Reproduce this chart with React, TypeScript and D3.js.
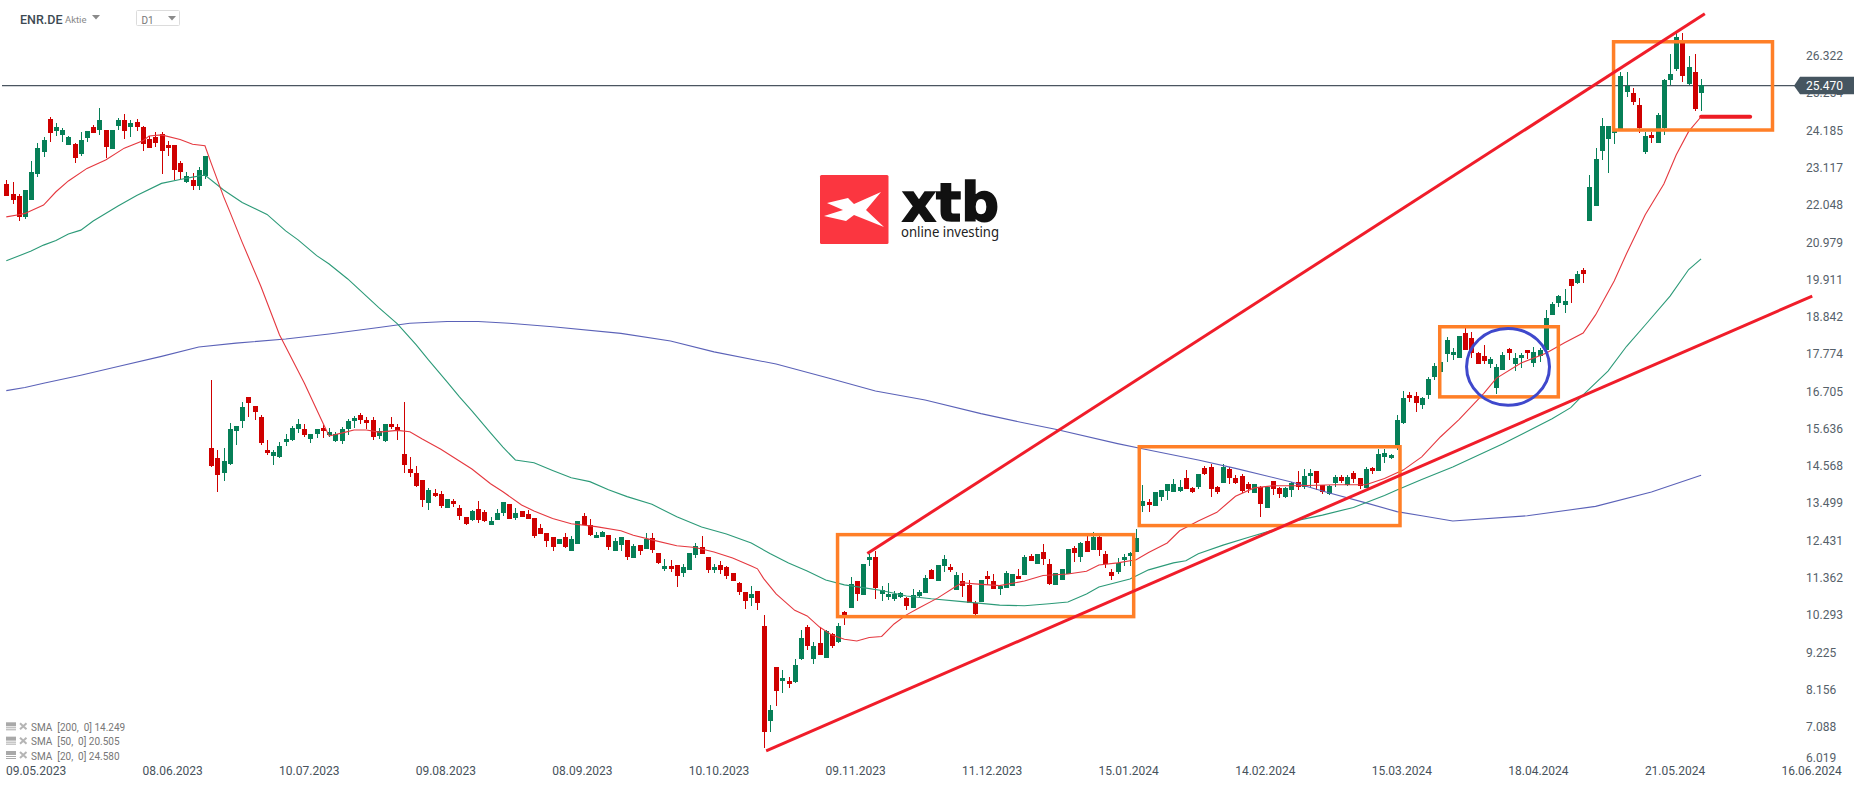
import { useEffect, useRef } from "react";
import * as d3 from "d3";

const opens = [
  22.65,22.37,22.31,21.71,22.19,22.94,23.57,24.52,24.17,24.06,
  23.77,23.80,23.51,23.97,24.29,24.20,24.20,23.65,24.31,24.49,
  24.29,24.43,24.29,23.94,24.00,24.09,23.77,23.77,23.25,22.71,
  22.77,22.59,22.88,15.08,14.80,14.37,14.62,15.57,15.86,16.55,
  16.29,15.97,15.03,14.85,14.83,15.26,15.31,15.63,15.63,15.34,
  15.49,15.66,15.46,15.28,15.28,15.63,15.86,16.03,15.89,15.89,
  15.43,15.28,15.77,15.69,14.91,14.48,14.37,14.17,13.51,13.79,
  13.76,13.36,13.56,13.36,13.10,13.02,13.33,13.25,12.88,13.02,
  13.22,13.48,13.08,13.28,13.19,13.08,12.79,12.65,12.53,12.33,
  12.53,12.13,12.33,13.13,12.88,12.50,12.53,12.59,12.13,12.30,
  12.45,11.93,12.30,12.19,12.50,12.07,11.61,11.70,11.73,11.50,
  11.59,12.02,12.24,11.96,11.59,11.73,11.67,11.50,11.21,10.95,
  10.78,10.98,9.98,7.26,8.80,8.40,8.40,8.37,9.03,9.95,
  9.03,9.49,9.06,9.75,9.52,10.38,10.50,11.27,10.87,11.87,
  11.96,10.90,10.81,10.75,10.81,10.78,10.50,10.84,10.93,11.59,
  11.27,11.70,11.67,11.01,11.27,11.16,10.63,10.67,11.41,11.27,
  11.04,11.07,11.13,11.41,11.44,11.99,11.76,12.10,11.76,11.16,
  11.30,11.47,12.22,11.96,12.42,12.16,12.53,12.04,11.53,11.53,
  11.87,11.99,12.11,13.42,13.54,13.42,13.68,13.85,13.82,13.85,
  14.22,13.94,13.96,14.51,14.54,13.96,14.08,14.48,14.22,14.28,
  14.05,13.79,13.96,13.36,14.14,13.94,13.68,13.88,14.11,13.96,
  14.28,14.42,14.02,13.76,14.08,14.25,14.02,14.37,14.22,13.94,
  14.51,14.42,14.83,14.79,15.07,15.80,16.60,16.57,16.32,16.60,
  17.13,17.26,17.78,17.75,17.67,18.37,18.23,17.80,17.72,17.49,
  16.81,17.32,17.92,17.49,17.66,17.89,17.53,17.73,17.89,18.90,
  19.25,19.19,19.92,19.81,20.19,21.60,22.03,23.60,23.94,24.11,
  24.23,25.30,25.26,24.92,23.57,24.06,23.83,24.26,25.63,25.95,
  26.75,25.52,25.86,25.26,
];
const closes = [
  22.31,22.19,21.71,22.48,22.99,23.68,23.91,24.11,24.29,24.20,
  24.00,23.40,23.91,24.17,24.11,24.49,23.71,24.20,24.49,24.17,
  24.40,24.29,23.80,23.68,23.83,23.60,23.68,23.05,22.99,22.88,
  22.59,23.05,23.45,14.57,14.31,14.71,15.63,15.71,16.26,16.37,
  16.12,15.23,14.94,14.97,15.14,15.34,15.66,15.77,15.46,15.49,
  15.63,15.57,15.54,15.49,15.63,15.86,15.94,15.89,15.80,15.40,
  15.57,15.77,15.69,15.57,14.60,14.37,13.99,13.59,13.88,13.71,
  13.42,13.62,13.48,13.13,12.90,13.28,13.02,12.99,12.99,13.22,
  13.54,13.05,13.22,13.10,13.05,12.56,12.62,12.42,12.24,12.47,
  12.24,12.47,12.99,12.88,12.59,12.59,12.68,12.24,12.42,12.53,
  11.96,12.27,12.13,12.47,12.16,11.79,11.70,11.61,11.41,11.67,
  12.07,12.27,12.04,11.59,11.67,11.59,11.41,11.27,10.95,10.70,
  10.90,10.64,6.94,7.57,8.12,8.49,8.32,8.86,9.64,9.41,
  9.41,9.15,9.84,9.41,9.98,10.30,11.18,10.90,11.76,11.96,
  11.07,11.01,10.90,10.90,10.93,10.55,10.87,10.96,11.36,11.33,
  11.73,11.90,11.59,11.44,11.13,10.64,10.32,11.30,11.33,11.04,
  11.13,11.50,11.47,11.33,11.96,11.84,12.04,11.90,11.18,11.50,
  11.61,12.19,12.07,12.36,12.10,12.53,12.16,11.76,11.41,11.79,
  11.96,12.07,12.50,13.56,13.45,13.82,13.88,14.05,14.05,13.96,
  13.91,13.82,14.34,14.34,13.91,13.82,14.54,14.22,14.08,13.85,
  13.91,14.05,13.48,13.96,13.91,13.76,13.94,14.08,13.96,14.28,
  14.37,14.08,13.82,13.99,14.25,14.14,14.25,14.19,13.99,14.48,
  14.42,14.91,14.93,14.88,15.89,16.52,16.52,16.37,16.52,17.06,
  17.43,17.55,18.18,17.85,18.29,17.89,17.80,17.49,17.58,17.63,
  17.42,17.75,17.82,17.66,17.75,17.80,17.84,17.89,18.80,19.20,
  19.44,19.29,19.74,20.07,20.07,22.57,23.37,24.32,24.32,24.20,
  25.75,25.47,25.01,24.26,24.03,23.97,24.63,25.63,25.81,26.87,
  25.75,26.01,24.80,25.50,
];
const highs = [
  22.77,22.71,22.37,22.48,23.31,23.83,24.00,24.57,24.40,24.26,
  24.03,23.83,24.14,24.17,24.34,24.83,24.20,24.20,24.54,24.66,
  24.49,24.52,24.31,24.03,24.14,24.14,23.88,23.77,23.31,22.99,
  22.97,23.14,23.45,17.03,15.03,15.08,15.80,15.71,16.40,16.55,
  16.29,16.03,15.31,15.03,15.26,15.49,15.71,15.91,15.77,15.49,
  15.63,15.74,15.66,15.54,15.69,15.91,16.00,16.09,15.97,15.97,
  15.66,15.77,15.97,15.77,16.40,14.83,14.57,14.17,13.94,13.91,
  13.85,13.62,13.62,13.45,13.10,13.30,13.56,13.30,13.10,13.33,
  13.54,13.48,13.36,13.28,13.30,13.08,12.90,12.65,12.53,12.47,
  12.65,12.56,12.99,13.22,13.05,12.68,12.70,12.59,12.50,12.53,
  12.45,12.33,12.30,12.65,12.65,12.07,11.90,11.87,11.73,11.76,
  12.07,12.36,12.56,11.96,11.76,11.84,11.70,11.50,11.24,10.95,
  11.13,10.98,10.30,7.71,8.80,8.72,8.52,9.03,9.87,10.01,
  9.52,9.95,9.87,9.78,10.07,10.41,11.39,11.27,11.76,12.04,
  12.13,11.13,11.21,10.98,10.96,10.81,11.04,11.01,11.44,11.61,
  11.73,12.02,11.76,11.53,11.50,11.30,10.70,11.30,11.56,11.47,
  11.16,11.56,11.47,11.61,12.02,12.04,12.04,12.33,11.90,11.50,
  11.61,12.19,12.27,12.39,12.56,12.68,12.56,12.13,11.61,11.93,
  12.04,12.10,12.76,14.02,13.62,13.82,13.88,14.05,14.19,14.17,
  14.45,13.96,14.34,14.57,14.62,13.99,14.62,14.54,14.31,14.34,
  14.11,14.05,13.99,13.96,14.14,13.96,13.96,14.11,14.42,14.48,
  14.48,14.42,14.02,14.02,14.31,14.31,14.31,14.42,14.22,14.54,
  14.54,15.05,15.05,14.90,16.03,16.72,16.69,16.69,16.55,17.13,
  17.51,17.75,18.26,17.94,18.29,18.51,18.42,17.85,18.04,17.70,
  17.49,17.83,17.96,17.80,17.82,17.89,17.99,17.94,19.04,19.28,
  19.47,19.64,19.92,20.17,20.24,22.91,23.68,24.55,24.32,24.20,
  25.86,25.86,25.40,25.11,24.14,24.14,24.68,25.65,26.38,26.97,
  26.97,26.32,26.38,25.66,
];
const lows = [
  22.31,22.08,21.60,21.65,22.19,22.85,23.43,23.86,24.03,23.86,
  23.77,23.25,23.45,23.86,24.11,24.06,23.40,23.65,24.20,23.94,
  24.00,24.17,23.60,23.68,23.71,22.94,23.45,22.77,22.80,22.68,
  22.48,22.48,22.80,14.54,13.82,14.14,14.60,15.17,15.66,15.97,
  15.89,15.17,14.88,14.60,14.80,15.14,15.28,15.51,15.40,15.23,
  15.37,15.37,15.40,15.26,15.20,15.46,15.66,15.77,15.63,15.31,
  15.34,15.26,15.63,15.31,14.37,14.25,13.97,13.39,13.31,13.68,
  13.36,13.36,13.39,13.02,12.88,12.99,12.93,12.96,12.88,13.02,
  13.13,13.05,13.02,13.10,13.05,12.50,12.62,12.24,12.13,12.33,
  12.22,12.13,12.33,12.88,12.56,12.50,12.53,12.16,12.13,12.13,
  11.87,11.93,12.02,12.19,12.07,11.76,11.56,11.53,11.10,11.39,
  11.59,11.93,12.04,11.50,11.50,11.47,11.33,11.27,10.87,10.47,
  10.55,10.44,6.48,6.94,7.69,8.06,8.20,8.35,9.00,9.29,
  8.89,9.15,9.06,9.35,9.49,10.01,10.50,10.70,10.87,11.70,
  10.75,10.70,10.73,10.70,10.78,10.44,10.50,10.81,10.93,11.33,
  11.27,11.53,11.53,11.01,10.81,10.64,10.29,10.67,11.16,11.04,
  10.87,11.07,11.13,11.33,11.44,11.84,11.76,11.73,11.16,11.16,
  11.30,11.47,11.81,11.81,12.10,12.16,11.99,11.64,11.30,11.47,
  11.70,11.70,12.11,13.25,13.25,13.42,13.56,13.59,13.82,13.82,
  13.91,13.79,13.91,14.31,13.68,13.76,14.08,14.05,14.05,13.79,
  13.79,13.79,13.11,13.36,13.74,13.65,13.65,13.68,13.88,13.91,
  13.94,13.88,13.76,13.74,13.96,14.08,13.99,14.08,13.91,13.94,
  14.34,14.42,14.65,14.76,15.03,15.77,16.41,16.12,16.21,16.50,
  17.03,17.26,17.56,17.61,17.67,17.89,17.66,17.49,17.49,17.37,
  16.63,17.32,17.61,17.29,17.39,17.64,17.42,17.54,17.89,18.90,
  19.14,18.95,19.25,19.79,19.81,21.60,22.03,23.34,22.98,23.80,
  24.23,25.15,24.92,24.12,23.51,23.82,23.83,24.06,25.49,25.89,
  25.58,25.49,24.75,24.75,
];

// moving averages, read at the bars where the line bends: [bar index, price]
const sma20: [number, number][] = [
  [0,21.71],[2,21.77],[3,21.81],[6,22.05],[8,22.43],[10,22.74],[13,23.10],[16,23.34],[19,23.68],[22,23.89],
  [23,24.03],[25,24.06],[28,23.93],[30,23.79],[32,23.75],[33,23.25],[35,22.29],[36,21.86],[38,20.98],[41,19.72],
  [44,18.33],[45,17.99],[48,16.95],[51,15.80],[52,15.43],[54,15.51],[56,15.60],[58,15.60],[60,15.54],[63,15.59],
  [65,15.55],[67,15.34],[70,15.05],[75,14.48],[78,14.06],[80,13.83],[83,13.45],[85,13.28],[88,13.06],[91,12.91],
  [95,12.83],[99,12.71],[101,12.58],[104,12.45],[108,12.28],[111,12.23],[114,12.10],[117,11.93],[120,11.70],[121,11.62],
  [122,11.34],[124,10.90],[127,10.43],[129,10.27],[131,9.95],[133,9.72],[135,9.60],[137,9.55],[139,9.65],[141,9.68],
  [143,10.04],[145,10.30],[147,10.50],[150,10.78],[153,11.12],[154,11.22],[156,11.19],[160,11.14],[164,11.27],[167,11.43],
  [171,11.47],[174,11.55],[176,11.73],[179,11.79],[182,11.88],[184,12.09],[187,12.36],[189,12.71],[192,12.99],[195,13.24],
  [198,13.70],[201,13.94],[204,14.00],[208,14.00],[214,14.03],[219,14.03],[222,14.21],[225,14.45],[228,14.83],[231,15.40],
  [234,15.90],[238,16.65],[240,17.08],[244,17.52],[248,17.80],[251,18.10],[254,18.38],[256,18.90],[259,19.87],[261,20.66],
  [264,21.77],[267,22.65],[269,23.49],[271,24.16],[273,24.58],
];
const sma50: [number, number][] = [
  [0,20.45],[4,20.73],[6,20.90],[8,21.03],[10,21.22],[12,21.33],[14,21.59],[18,22.02],[21,22.32],[25,22.67],
  [28,22.78],[30,22.85],[32,22.91],[35,22.48],[38,22.12],[42,21.78],[45,21.31],[47,21.05],[50,20.60],[52,20.36],
  [55,19.93],[58,19.44],[60,19.11],[63,18.64],[66,18.05],[68,17.61],[71,16.98],[73,16.55],[75,16.15],[78,15.52],
  [80,15.11],[82,14.74],[85,14.66],[88,14.44],[91,14.23],[94,14.12],[97,13.89],[100,13.69],[104,13.47],[108,13.11],
  [112,12.82],[116,12.62],[120,12.36],[123,12.06],[126,11.79],[129,11.56],[132,11.30],[135,11.16],[138,11.08],[141,11.00],
  [145,10.84],[149,10.76],[154,10.68],[160,10.58],[164,10.56],[168,10.62],[171,10.67],[174,10.90],[176,11.10],[181,11.33],
  [184,11.59],[188,11.79],[190,11.85],[192,12.05],[196,12.30],[200,12.52],[204,12.73],[208,13.01],[212,13.16],[217,13.38],
  [222,13.72],[224,13.88],[228,14.18],[233,14.54],[241,15.20],[249,15.92],[252,16.24],[254,16.61],[258,17.29],[261,18.00],
  [264,18.61],[268,19.44],[271,20.20],[273,20.505],
];
const sma200: [number, number][] = [
  [0,16.73],[3,16.82],[6,16.94],[12,17.17],[18,17.42],[25,17.71],[31,17.98],[37,18.09],[45,18.21],[52,18.35],
  [60,18.54],[65,18.66],[71,18.71],[76,18.71],[81,18.66],[88,18.56],[99,18.37],[107,18.15],[114,17.84],[124,17.49],
  [133,17.06],[140,16.72],[148,16.46],[157,16.07],[164,15.80],[169,15.62],[179,15.21],[183,15.06],[192,14.74],[198,14.50],
  [207,14.11],[213,13.80],[219,13.51],[224,13.26],[228,13.14],[233,12.99],[245,13.14],[256,13.41],[265,13.82],[273,14.30],
];

const priceTicks = ["26.322","25.254","24.185","23.117","22.048","20.979","19.911","18.842","17.774","16.705","15.636","14.568","13.499","12.431","11.362","10.293","9.225","8.156","7.088","6.019"];
const lastPrice = 25.47;
const dateLabels = ["09.05.2023","08.06.2023","10.07.2023","09.08.2023","08.09.2023","10.10.2023","09.11.2023","11.12.2023","15.01.2024","14.02.2024","15.03.2024","18.04.2024","21.05.2024","16.06.2024"];
const legendRows = ["SMA  [200,  0] 14.249","SMA  [50,  0] 20.505","SMA  [20,  0] 24.580"];

// hand drawn analysis on the chart, in bars and prices
const boxes = [
  { from: 133.9, to: 181.6, top: 12.60, bottom: 10.25 },
  { from: 182.5, to: 224.5, top: 15.12, bottom: 12.86 },
  { from: 230.9, to: 250.0, top: 18.56, bottom: 16.55 },
  { from: 258.9, to: 284.5, top: 26.73, bottom: 24.20 },
];
const trendLines = [
  { a: [138.7, 12.06], b: [273.6, 27.53] },
  { a: [122.4, 6.40], b: [290.9, 19.44] },
];
const supportLine = { from: 273, to: 280.9, price: 24.58 };
const circleMark = { bar: 241.9, price: 17.41, barRadius: 6.68, priceRadius: 1.10 };

const upColor = "#067f57";
const downColor = "#cf0000";
const axisColor = "#56616a";
const font = "Roboto";

const width = 1866;
const height = 787;

export default function App() {
  const svgRef = useRef<SVGSVGElement | null>(null);

  useEffect(() => {
    const svg = d3.select(svgRef.current);
    svg.selectAll("*").remove();

    const x = d3.scaleLinear().domain([0, 273]).range([6.3, 1701.1]);
    const y = d3.scaleLinear().domain([26.322, 6.019]).range([56, 764.2]);

    // current price line
    svg.append("line")
      .attr("x1", 2).attr("x2", 1796)
      .attr("y1", y(lastPrice)).attr("y2", y(lastPrice))
      .attr("stroke", "#4a5560").attr("stroke-width", 1.2);

    // candles
    const candle = svg.append("g").selectAll("g")
      .data(d3.range(opens.length))
      .enter().append("g")
      .attr("fill", i => closes[i] >= opens[i] ? upColor : downColor);
    candle.append("rect")
      .attr("x", i => Math.round(x(i)))
      .attr("width", 1)
      .attr("y", i => Math.round(y(highs[i])))
      .attr("height", i => Math.max(1, Math.round(y(lows[i])) - Math.round(y(highs[i]))));
    candle.append("rect")
      .attr("x", i => Math.round(x(i)) - 2)
      .attr("width", 5)
      .attr("y", i => Math.round(y(Math.max(opens[i], closes[i]))))
      .attr("height", i => Math.max(1, Math.round(y(Math.min(opens[i], closes[i]))) - Math.round(y(Math.max(opens[i], closes[i])))));

    // moving averages
    const smaLine = d3.line<[number, number]>().x(d => x(d[0])).y(d => y(d[1]));
    [[sma200, "#5b62b8"], [sma50, "#2c9a78"], [sma20, "#e5383f"]].forEach(([points, color]) => {
      svg.append("path")
        .attr("d", smaLine(points as [number, number][]))
        .attr("fill", "none")
        .attr("stroke", color as string)
        .attr("stroke-width", 1.1);
    });

    // watermark
    const logo = svg.append("g").attr("transform", "translate(820,175)");
    logo.append("rect").attr("width", 68.5).attr("height", 69).attr("rx", 1.5).attr("fill", "#fb3640");
    logo.append("polygon")
      .attr("points", "7,28 28,23 34,29 61,17 46,35 64,52 34,40 26,46 4,41 23,35")
      .attr("fill", "#fff");
    svg.append("text")
      .attr("x", 902).attr("y", 220.7)
      .attr("font-family", "DejaVu Sans").attr("font-weight", "bold").attr("font-size", 54)
      .attr("textLength", 97).attr("lengthAdjust", "spacingAndGlyphs")
      .attr("fill", "#111").attr("stroke", "#111").attr("stroke-width", 1.6)
      .text("xtb");
    svg.append("text")
      .attr("x", 901).attr("y", 236.5)
      .attr("font-family", "Noto Sans").attr("font-size", 14)
      .attr("textLength", 98).attr("lengthAdjust", "spacingAndGlyphs")
      .attr("fill", "#222").text("online investing");

    // price axis
    const tickScale = (t: string) => Math.min(y(+t), 758);
    svg.append("g").selectAll("text")
      .data(priceTicks)
      .enter().append("text")
      .attr("x", 1806).attr("y", d => tickScale(d))
      .attr("dy", "0.35em")
      .attr("font-family", font).attr("font-size", 12).attr("fill", axisColor)
      .text(d => d);

    // price tag
    const tagY = y(lastPrice);
    svg.append("polygon")
      .attr("points", `1794,${tagY} 1800,${tagY - 9} 1854,${tagY - 9} 1854,${tagY + 8.5} 1800,${tagY + 8.5}`)
      .attr("fill", "#455560");
    svg.append("text")
      .attr("x", 1806).attr("y", tagY).attr("dy", "0.35em")
      .attr("font-family", font).attr("font-size", 12).attr("fill", "#fff")
      .text(lastPrice.toFixed(3));

    // date axis, a label every 22 bars
    svg.append("g").selectAll("text")
      .data(dateLabels)
      .enter().append("text")
      .attr("x", (_, k) => x(4.8 + 22 * k)).attr("y", 770.7)
      .attr("dy", "0.35em").attr("text-anchor", "middle")
      .attr("font-family", font).attr("font-size", 12).attr("fill", "#47525b")
      .text(d => d);

    // legend
    const legend = svg.append("g").selectAll("g")
      .data(legendRows)
      .enter().append("g")
      .attr("transform", (_, k) => `translate(0,${727.3 + k * 14.35})`);
    legend.append("rect").attr("x", 6).attr("y", -5).attr("width", 10).attr("height", 4).attr("fill", "#a9a9a9");
    legend.append("rect").attr("x", 6).attr("y", 0).attr("width", 10).attr("height", 1).attr("fill", "#a9a9a9");
    legend.append("rect").attr("x", 6).attr("y", 2).attr("width", 10).attr("height", 1).attr("fill", "#a9a9a9");
    legend.append("path")
      .attr("d", "M20,-4 L26.5,2 M26.5,-4 L20,2")
      .attr("stroke", "#b5b5b5").attr("stroke-width", 2).attr("fill", "none");
    legend.append("text")
      .attr("x", 31).attr("y", 0).attr("dy", "0.35em")
      .attr("font-family", font).attr("font-size", 10).attr("fill", "#777")
      .attr("xml:space", "preserve").style("white-space", "pre")
      .text(d => d);

    // header
    svg.append("text").attr("x", 20).attr("y", 23.5)
      .attr("font-family", font).attr("font-weight", 500).attr("font-size", 12.5).attr("fill", "#3d4a52").text("ENR.DE");
    svg.append("text").attr("x", 65).attr("y", 23)
      .attr("font-family", font).attr("font-size", 9.5).attr("fill", "#888").text("Aktie");
    svg.append("polygon").attr("points", "92,15 100,15 96,19.5").attr("fill", "#8a8a8a");
    svg.append("rect").attr("x", 136.5).attr("y", 10.5).attr("width", 43).attr("height", 15).attr("rx", 1)
      .attr("fill", "#fff").attr("stroke", "#dcdcdc");
    svg.append("text").attr("x", 141.5).attr("y", 23.5)
      .attr("font-family", font).attr("font-size", 10).attr("fill", "#777").text("D1");
    svg.append("polygon").attr("points", "168,16 176,16 172,20.5").attr("fill", "#8a8a8a");

    // drawn boxes, circle and trend lines
    svg.append("g").selectAll("rect")
      .data(boxes)
      .enter().append("rect")
      .attr("x", d => x(d.from)).attr("y", d => y(d.top))
      .attr("width", d => x(d.to) - x(d.from)).attr("height", d => y(d.bottom) - y(d.top))
      .attr("fill", "none").attr("stroke", "#ff7f27").attr("stroke-width", 3.5);
    svg.append("g").selectAll("line")
      .data(trendLines)
      .enter().append("line")
      .attr("x1", d => x(d.a[0])).attr("y1", d => y(d.a[1]))
      .attr("x2", d => x(d.b[0])).attr("y2", d => y(d.b[1]))
      .attr("stroke", "#f01d2a").attr("stroke-width", 3);
    svg.append("line")
      .attr("x1", x(supportLine.from)).attr("x2", x(supportLine.to))
      .attr("y1", y(supportLine.price)).attr("y2", y(supportLine.price))
      .attr("stroke", "#ed1c24").attr("stroke-width", 4).attr("stroke-linecap", "round");
    svg.append("ellipse")
      .attr("cx", x(circleMark.bar)).attr("cy", y(circleMark.price))
      .attr("rx", x(circleMark.barRadius) - x(0))
      .attr("ry", y(0) - y(circleMark.priceRadius))
      .attr("fill", "none").attr("stroke", "#3f48cc").attr("stroke-width", 3);
  }, []);

  return (
    <svg
      ref={svgRef}
      width={width}
      height={height}
      style={{ position: "absolute", left: 0, top: 0, background: "#fff", display: "block" }}
    />
  );
}
